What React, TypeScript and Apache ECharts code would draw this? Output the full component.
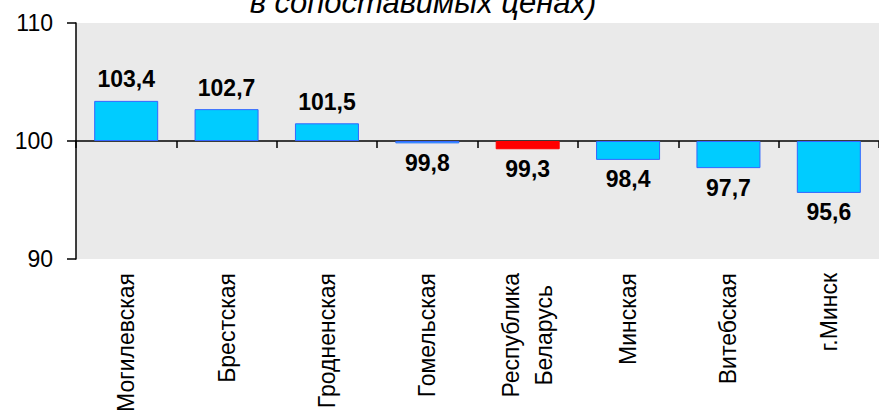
import React, { useEffect, useRef } from "react";
import * as echarts from "echarts";

const categories = [
  "Могилевская",
  "Брестская",
  "Гродненская",
  "Гомельская",
  "Республика\nБеларусь",
  "Минская",
  "Витебская",
  "г.Минск",
];
const values = [103.4, 102.7, 101.5, 99.8, 99.3, 98.4, 97.7, 95.6];
const highlighted = ["Республика\nБеларусь"];
const baseValue = 100;
const yTicks = [90, 100, 110];
const titleText = "в сопоставимых ценах)";

const FONT = "'Liberation Sans', Arial, Helvetica, sans-serif";

export default function App() {
  const ref = useRef<HTMLDivElement>(null);

  useEffect(() => {
    if (!ref.current) return;
    const chart = echarts.init(ref.current, undefined, { renderer: "svg" });

    const yMin = yTicks[0] - baseValue;
    const yMax = yTicks[yTicks.length - 1] - baseValue;
    const interval = yTicks[1] - yTicks[0];

    const seriesData = values.map((v, i) => {
      const isHi = highlighted.includes(categories[i]);
      const up = v >= baseValue;
      return {
        value: +(v - baseValue).toFixed(1),
        itemStyle: {
          color: isHi ? "#FF0000" : "#00CCFF",
          borderColor: isHi ? "#FF0000" : "#3366FF",
          borderWidth: 1,
        },
        label: {
          position: up ? "top" : "bottom",
          distance: up ? 10 : 8,
        },
      };
    });

    chart.setOption({
      animation: false,
      grid: {
        left: 76,
        top: 23,
        right: -11,
        bottom: 160,
        show: true,
        backgroundColor: "#EAEAEA",
        borderWidth: 0,
      },
      graphic: [
        {
          type: "text",
          x: 423,
          y: 2.5,
          silent: true,
          style: {
            text: titleText,
            align: "center",
            verticalAlign: "middle",
            fontFamily: FONT,
            fontStyle: "italic",
            fontSize: 31,
            fill: "#000",
          },
        },
      ],
      xAxis: [
        {
          type: "category",
          data: categories,
          position: "bottom",
          axisLine: {
            show: true,
            onZero: true,
            lineStyle: { color: "#000", width: 1.5 },
          },
          axisTick: {
            show: true,
            inside: false,
            length: 7,
            alignWithLabel: false,
            lineStyle: { color: "#000", width: 1.5 },
          },
          axisLabel: { show: false },
          splitLine: { show: false },
        },
        {
          type: "category",
          data: categories,
          position: "bottom",
          axisLine: { show: false, onZero: false },
          axisTick: { show: false },
          splitLine: { show: false },
          axisLabel: {
            show: true,
            interval: 0,
            rotate: 90,
            margin: 14,
            color: "#000",
            fontFamily: FONT,
            fontSize: 23,
            formatter: (v: string) =>
              v
                .split("\n")
                .map((s) => "{c|" + s + "}")
                .join("\n"),
            rich: {
              c: {
                align: "center",
                fontFamily: FONT,
                fontSize: 23,
                lineHeight: 33,
                color: "#000",
              },
            },
          },
        },
      ],
      yAxis: {
        type: "value",
        min: yMin,
        max: yMax,
        interval: interval,
        axisLine: { show: true, lineStyle: { color: "#000", width: 1.5 } },
        axisTick: {
          show: true,
          inside: false,
          length: 9,
          lineStyle: { color: "#000", width: 1.5 },
        },
        splitLine: { show: false },
        axisLabel: {
          margin: 23,
          color: "#000",
          fontFamily: FONT,
          fontSize: 23,
          formatter: (v: number) => String(Math.round(v + baseValue)),
        },
      },
      series: [
        {
          type: "bar",
          xAxisIndex: 0,
          barWidth: 64,
          data: seriesData,
          label: {
            show: true,
            color: "#000",
            fontFamily: FONT,
            fontSize: 23,
            fontWeight: "bold",
            formatter: (p: any) =>
              values[p.dataIndex].toFixed(1).replace(".", ","),
          },
        },
      ],
    });

    return () => chart.dispose();
  }, []);

  return (
    <div
      ref={ref}
      style={{
        position: "absolute",
        left: 0,
        top: 0,
        width: 879,
        height: 419,
        background: "#fff",
      }}
    />
  );
}
